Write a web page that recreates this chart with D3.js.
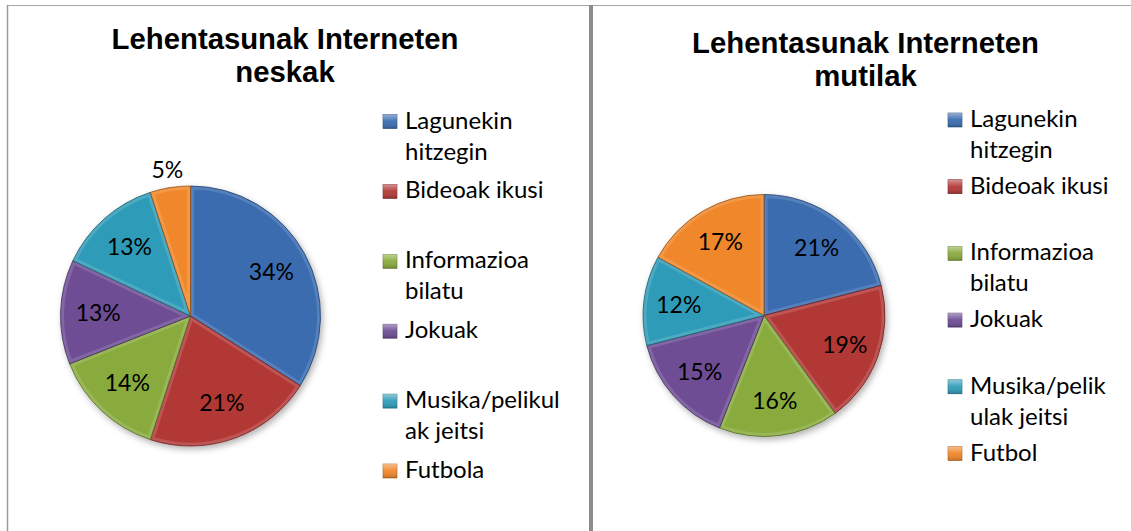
<!DOCTYPE html>
<html>
<head>
<meta charset="utf-8">
<script src="https://cdn.jsdelivr.net/npm/d3@7"></script>
<style>
  body { margin: 0; background: #fff; }
  svg { display: block; }
  .title { font-family: "Liberation Sans", Arial, sans-serif; font-weight: bold; font-size: 29.3px; fill: #000; }
  .lbl { font-family: Lato, "Noto Sans", sans-serif; font-size: 23px; fill: #000; }
  .leg { font-family: Lato, "Noto Sans", sans-serif; font-size: 24px; fill: #000; }
</style>
</head>
<body>
<svg id="chart" width="1131" height="531"></svg>
<script>
// data
var categories = ["Lagunekin hitzegin", "Bideoak ikusi", "Informazioa bilatu", "Jokuak", "Musika/pelikulak jeitsi", "Futbola"];
var neskakValues = [34, 21, 14, 13, 13, 5];
var mutilakValues = [21, 19, 16, 15, 12, 17];
var neskakTitle = ["Lehentasunak Interneten", "neskak"];
var mutilakTitle = ["Lehentasunak Interneten", "mutilak"];
var neskakLegend = [["Lagunekin", "hitzegin"], ["Bideoak ikusi"], ["Informazioa", "bilatu"], ["Jokuak"], ["Musika/pelikul", "ak jeitsi"], ["Futbola"]];
var mutilakLegend = [["Lagunekin", "hitzegin"], ["Bideoak ikusi"], ["Informazioa", "bilatu"], ["Jokuak"], ["Musika/pelik", "ulak jeitsi"], ["Futbol"]];
var colors = ["#3a6cb0", "#b23836", "#89ab3e", "#6e4d95", "#2f9cb9", "#f0872a"];

var svg = d3.select("#chart");

// frame lines
svg.append("line").attr("x1", 7).attr("x2", 1131).attr("y1", 5.5).attr("y2", 5.5)
    .attr("stroke", "#a6a6a6").attr("stroke-width", 1);
svg.append("line").attr("x1", 7.5).attr("x2", 7.5).attr("y1", 5).attr("y2", 531)
    .attr("stroke", "#9a9a9a").attr("stroke-width", 1.5);
svg.append("line").attr("x1", 591).attr("x2", 591).attr("y1", 5).attr("y2", 531)
    .attr("stroke", "#8c8c8c").attr("stroke-width", 4);

var defs = svg.append("defs");
var shadow = defs.append("filter").attr("id", "shadow")
    .attr("x", "-20%").attr("y", "-20%").attr("width", "140%").attr("height", "140%");
shadow.append("feDropShadow").attr("dx", 2).attr("dy", 3).attr("stdDeviation", 3)
    .attr("flood-color", "#000").attr("flood-opacity", 0.3);

var legGrad = defs.append("linearGradient").attr("id", "legshine")
    .attr("x1", 0).attr("y1", 0).attr("x2", 0).attr("y2", 1);
legGrad.append("stop").attr("offset", "0%").attr("stop-color", "#fff").attr("stop-opacity", 0.45);
legGrad.append("stop").attr("offset", "50%").attr("stop-color", "#fff").attr("stop-opacity", 0.05);
legGrad.append("stop").attr("offset", "100%").attr("stop-color", "#000").attr("stop-opacity", 0.2);

function drawPanel(id, values, title, legend, cfg) {
    var g = svg.append("g");

    g.selectAll("text.title")
        .data(title)
        .enter()
        .append("text")
        .attr("class", "title")
        .attr("x", cfg.titleX)
        .attr("y", function(d, i){ return cfg.titleY + i * 33 })
        .attr("text-anchor", "middle")
        .text(function(d){ return d });

    var pie = d3.pie().sort(null).value(function(d){ return d });
    var arcs = pie(values);
    var arc = d3.arc().innerRadius(0).outerRadius(cfg.r);
    var labelArc = d3.arc().innerRadius(cfg.r * 0.71).outerRadius(cfg.r * 0.71);
    var outerArc = d3.arc().innerRadius(cfg.r * 1.14).outerRadius(cfg.r * 1.14);

    var pieG = g.append("g").attr("transform", "translate(" + cfg.cx + "," + cfg.cy + ")");
    var body = pieG.append("g").attr("filter", "url(#shadow)");

    arcs.forEach(function(d, i){
        defs.append("clipPath").attr("id", id + "clip" + i)
            .append("path").attr("d", arc(d));
    });

    var slices = body.selectAll("g.slice")
        .data(arcs)
        .enter()
        .append("g")
        .attr("class", "slice");

    slices.append("path")
        .attr("d", arc)
        .attr("fill", function(d, i){ return colors[i] });

    // bevel rim: light inner edge
    slices.append("path")
        .attr("d", arc)
        .attr("fill", "none")
        .attr("stroke", "#fff")
        .attr("stroke-opacity", 0.14)
        .attr("stroke-width", 7)
        .attr("clip-path", function(d, i){ return "url(#" + id + "clip" + i + ")" });

    slices.append("path")
        .attr("d", arc)
        .attr("fill", "none")
        .attr("stroke", function(d, i){ return d3.color(colors[i]).darker(1.4) })
        .attr("stroke-width", 0.8);

    pieG.selectAll("text.lbl")
        .data(arcs)
        .enter()
        .append("text")
        .attr("class", "lbl")
        .attr("text-anchor", "middle")
        .attr("dy", "0.35em")
        .attr("transform", function(d){
            var c = d.data < 8 ? outerArc.centroid(d) : labelArc.centroid(d);
            return "translate(" + c + ")";
        })
        .text(function(d){ return d.data + "%" });

    var items = g.selectAll("g.leg")
        .data(legend)
        .enter()
        .append("g")
        .attr("class", "leg")
        .attr("transform", function(d, i){ return "translate(" + cfg.legX + "," + (cfg.legY + i * cfg.legStep) + ")" });

    items.append("rect")
        .attr("x", 0).attr("y", -14).attr("width", 14).attr("height", 14)
        .attr("fill", function(d, i){ return colors[i] })
        .attr("stroke", function(d, i){ return d3.color(colors[i]).darker(1) })
        .attr("stroke-width", 0.6);
    items.append("rect")
        .attr("x", 0).attr("y", -14).attr("width", 14).attr("height", 14)
        .attr("fill", "url(#legshine)");

    items.selectAll("text")
        .data(function(d){ return d })
        .enter()
        .append("text")
        .attr("class", "leg")
        .attr("x", 22)
        .attr("y", function(d, i){ return i * 31 })
        .text(function(d){ return d });
}

drawPanel("n", neskakValues, neskakTitle, neskakLegend,
    { titleX: 285, titleY: 49, cx: 190.5, cy: 316, r: 130, legX: 383, legY: 128.5, legStep: 69.9 });
drawPanel("m", mutilakValues, mutilakTitle, mutilakLegend,
    { titleX: 865.5, titleY: 53, cx: 764, cy: 315.5, r: 121, legX: 948, legY: 127, legStep: 66.7 });
</script>
</body>
</html>
